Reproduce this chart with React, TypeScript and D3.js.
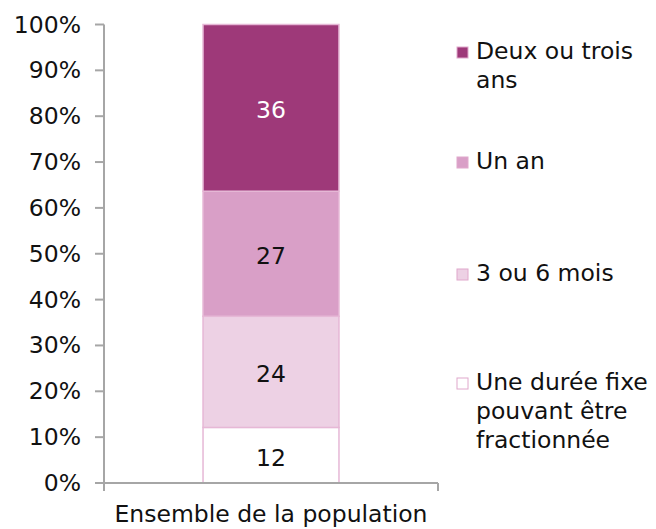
import React from "react";
import * as d3 from "d3";

const categories = ["Ensemble de la population"];
const seriesNames = ["Une durée fixe pouvant être fractionnée", "3 ou 6 mois", "Un an", "Deux ou trois ans"];
const seriesValues = [12, 24, 27, 36];
const seriesColors = ["#ffffff", "#edd1e4", "#d99fc7", "#9e3979"];
const labelColors = ["#111", "#111", "#111", "#ffffff"];
const yTicks = [0, 0.1, 0.2, 0.3, 0.4, 0.5, 0.6, 0.7, 0.8, 0.9, 1];
const legendLines = [
  ["Deux ou trois", "ans"],
  ["Un an"],
  ["3 ou 6 mois"],
  ["Une durée fixe", "pouvant être", "fractionnée"],
];
const legendColorIdx = [3, 2, 1, 0];
const legendY = [52, 162, 274, 383];

export default function App() {
  const W = 656, H = 529;
  const x0 = 104, x1 = 438, yTop = 24.5, yBot = 483;
  const fs = 23.5;
  const y = d3.scaleLinear().domain([0, 1]).range([yBot, yTop]);
  const x = d3.scaleBand().domain(categories).range([x0, x1]).paddingInner(0.593).paddingOuter(0.2965);
  const total = d3.sum(seriesValues);
  const stack = d3.stack<any>().keys(seriesNames.map((_, i) => String(i)))([
    Object.fromEntries(seriesValues.map((v, i) => [String(i), v / total])),
  ]);
  const bw = x.bandwidth();
  const bx = (x0 + x1) / 2 - bw / 2;
  const font = "'DejaVu Sans', Verdana, sans-serif";
  return (
    <svg width={W} height={H} style={{ position: "absolute", left: 0, top: 0 }} fontFamily={font}>
      <rect width={W} height={H} fill="#fff" />
      {stack.map((s, i) => {
        const [a, b] = s[0];
        return (
          <g key={i}>
            <rect x={bx} y={y(b)} width={bw} height={y(a) - y(b)} fill={seriesColors[i]} stroke="#e6b8d6" strokeWidth={1.5} />
            <text x={bx + bw / 2} y={(y(a) + y(b)) / 2 + 10.5} textAnchor="middle" fontSize={fs} fill={labelColors[i]}>
              {seriesValues[i]}
            </text>
          </g>
        );
      })}
      {/* y axis */}
      <line x1={x0} x2={x0} y1={yTop} y2={yBot + 8} stroke="#a6a6a6" strokeWidth={2} />
      {yTicks.map((t) => (
        <g key={t}>
          <line x1={x0 - 9} x2={x0} y1={y(t)} y2={y(t)} stroke="#a6a6a6" strokeWidth={2} />
          <text x={x0 - 23} y={y(t) + 8} textAnchor="end" fontSize={fs} fill="#111">
            {d3.format(".0%")(t)}
          </text>
        </g>
      ))}
      {/* x axis */}
      <line x1={x0 - 9} x2={x1} y1={yBot} y2={yBot} stroke="#a6a6a6" strokeWidth={2} />
      <line x1={x1} x2={x1} y1={yBot} y2={yBot + 8} stroke="#a6a6a6" strokeWidth={2} />
      <text x={(x0 + x1) / 2} y={522} textAnchor="middle" fontSize={fs} fill="#111">
        {categories[0]}
      </text>
      {/* legend */}
      {legendLines.map((lines, i) => (
        <g key={i}>
          <rect x={457} y={legendY[i] - 5} width={11} height={11} fill={seriesColors[legendColorIdx[i]]} stroke="#e0a8cc" strokeWidth={1} />
          {lines.map((l, j) => (
            <text key={j} x={476} y={legendY[i] + 7 + j * 29} fontSize={fs} fill="#111">
              {l}
            </text>
          ))}
        </g>
      ))}
    </svg>
  );
}
